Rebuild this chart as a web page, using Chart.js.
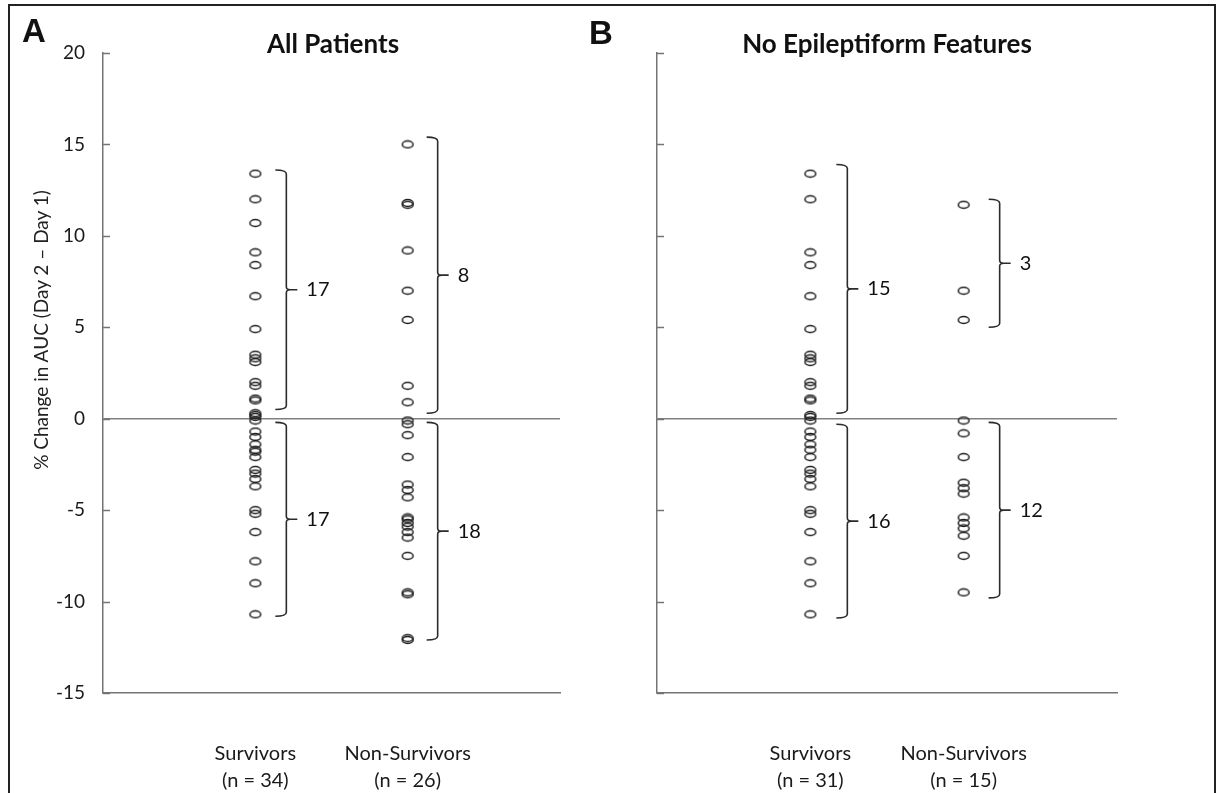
<!DOCTYPE html>
<html>
<head>
<meta charset="utf-8">
<script src="https://cdn.jsdelivr.net/npm/chart.js@4.4.1/dist/chart.umd.min.js"></script>
<style>
  html, body { margin: 0; padding: 0; background: #fff; }
  body { width: 1219px; height: 793px; position: relative; overflow: hidden; font-family: Lato, "Open Sans", sans-serif; }
  .frame { position: absolute; left: 8px; top: 4px; width: 1208px; height: 800px; border: 2px solid #222; box-sizing: border-box; }
  canvas { position: absolute; top: 0; }
  #chartA { left: 0; }
  #chartB { left: 600px; }
  .panel { position: absolute; font: bold 33px "Liberation Sans", Arial, sans-serif; color: #111; }
  .title { position: absolute; font: bold 26px Lato, sans-serif; color: #111; text-align: center; width: 460px; }
  .ytitle { position: absolute; left: 40px; top: 330px; transform: translate(-50%, -50%) rotate(-90deg);
            font: 19px "Liberation Sans Narrow", Lato, sans-serif; color: #222; white-space: nowrap; }
</style>
</head>
<body>
<div class="frame"></div>
<canvas id="chartA" width="600" height="793"></canvas>
<canvas id="chartB" width="619" height="793"></canvas>
<div class="panel" style="left:22px; top:12px;">A</div>
<div class="panel" style="left:589px; top:14px;">B</div>
<div class="title" style="left:103px; top:27px;">All Patients</div>
<div class="title" style="left:657px; top:27px;">No Epileptiform Features</div>
<div class="ytitle">% Change in AUC (Day 2 – Day 1)</div>
<script>
// ===== Data =====
const categories = ['Survivors', 'Non-Survivors'];
const countsA = ['(n = 34)', '(n = 26)'];
const countsB = ['(n = 31)', '(n = 15)'];
const yTicks = [-15, -10, -5, 0, 5, 10, 15, 20];

const allSurvivors = [13.4, 12.0, 10.7, 9.1, 8.4, 6.7, 4.9, 3.5, 3.3, 3.1, 2.0, 1.8, 1.1, 1.0, 0.3, 0.2, 0.1,
  -0.1, -0.7, -1.0, -1.4, -1.7, -1.8, -2.1, -2.8, -3.0, -3.3, -3.7, -5.0, -5.2, -6.2, -7.8, -9.0, -10.7];
const allNonSurvivors = [15.0, 11.8, 11.7, 9.2, 7.0, 5.4, 1.8, 0.9,
  -0.1, -0.3, -0.9, -2.1, -3.6, -3.9, -4.3, -5.4, -5.5, -5.7, -5.9, -6.2, -6.5, -7.5, -9.5, -9.6, -12.0, -12.1];
const noEpiSurvivors = [13.4, 12.0, 9.1, 8.4, 6.7, 4.9, 3.5, 3.3, 3.1, 2.0, 1.8, 1.1, 1.0, 0.2, 0.1,
  -0.1, -0.7, -1.0, -1.4, -1.7, -2.1, -2.8, -3.0, -3.3, -3.7, -5.0, -5.2, -6.2, -7.8, -9.0, -10.7];
const noEpiNonSurvivors = [11.7, 7.0, 5.4,
  -0.1, -0.8, -2.1, -3.5, -3.8, -4.1, -5.4, -5.7, -6.0, -6.4, -7.5, -9.5];

// bracket ranges [top, bottom] per category, with the count printed beside
const bracketCatA = [0, 0, 1, 1];
const bracketRangeA = [[13.6, 0.5], [-0.2, -10.8], [15.4, 0.3], [-0.2, -12.1]];
const bracketLabelA = ['17', '17', '8', '18'];
const bracketCatB = [0, 0, 1, 1];
const bracketRangeB = [[13.9, 0.3], [-0.3, -10.9], [12.0, 5.0], [-0.2, -9.8]];
const bracketLabelB = ['15', '16', '3', '12'];

// ===== Helpers =====
function ellipseMarker() {
  const c = document.createElement('canvas');
  c.width = 14; c.height = 10;
  const g = c.getContext('2d');
  g.strokeStyle = '#1e1e1e';
  g.lineWidth = 1.5;
  g.beginPath();
  g.ellipse(7, 5, 5.4, 3.5, 0, 0, Math.PI * 2);
  g.stroke();
  return c;
}
const marker = ellipseMarker();

const AXIS = '#747474';

// tick marks drawn inward, plus brackets with counts
const panelExtras = {
  id: 'panelExtras',
  afterDatasetsDraw(chart, args, opts) {
    const { ctx, chartArea } = chart;
    const x = chart.scales.x, y = chart.scales.y;
    ctx.save();
    ctx.strokeStyle = AXIS;
    ctx.lineWidth = 1.5;
    yTicks.forEach(v => {
      const py = Math.round(y.getPixelForValue(v)) + 0.5;
      ctx.beginPath();
      ctx.moveTo(chartArea.left, py);
      ctx.lineTo(chartArea.left + 7, py);
      ctx.stroke();
    });

    ctx.strokeStyle = '#2b2b2b';
    ctx.lineWidth = 1.6;
    ctx.fillStyle = '#111';
    ctx.font = '20px Lato, sans-serif';
    ctx.textBaseline = 'middle';
    ctx.textAlign = 'left';
    opts.ranges.forEach((r, i) => {
      const bx = x.getPixelForValue(opts.cats[i] + 1) + opts.offset[opts.cats[i]];
      const y1 = y.getPixelForValue(r[0]);
      const y2 = y.getPixelForValue(r[1]);
      const ym = (y1 + y2) / 2;
      ctx.beginPath();
      ctx.moveTo(bx - 11, y1);
      ctx.quadraticCurveTo(bx, y1, bx, y1 + 4);
      ctx.lineTo(bx, ym - 3);
      ctx.quadraticCurveTo(bx, ym, bx + 4, ym);
      ctx.lineTo(bx + 11, ym);
      ctx.moveTo(bx + 4, ym);
      ctx.quadraticCurveTo(bx, ym, bx, ym + 3);
      ctx.lineTo(bx, y2 - 4);
      ctx.quadraticCurveTo(bx, y2, bx - 11, y2);
      ctx.stroke();
      ctx.fillText(opts.labels[i], bx + 20, ym);
    });
    ctx.restore();
  }
};

function makePanel(id, survivors, nonSurvivors, counts, showYLabels, leftWidth, rightPad, brackets) {
  const survPts = survivors.map(v => ({ x: 1, y: v }));
  const nonPts = nonSurvivors.map(v => ({ x: 2, y: v }));
  const pointStyle = {
    pointStyle: marker, pointRadius: 6, pointHoverRadius: 6,
    showLine: false
  };
  return new Chart(document.getElementById(id), {
    type: 'scatter',
    data: {
      datasets: [
        Object.assign({ label: categories[0], data: survPts }, pointStyle),
        Object.assign({ label: categories[1], data: nonPts }, pointStyle)
      ]
    },
    options: {
      responsive: false,
      animation: false,
      layout: { padding: { top: 53, right: rightPad, bottom: 0, left: 0 } },
      plugins: {
        legend: { display: false },
        tooltip: { enabled: false },
        panelExtras: brackets
      },
      scales: {
        x: {
          type: 'linear', min: 0, max: 3,
          afterBuildTicks: s => { s.ticks = [{ value: 1 }, { value: 2 }]; },
          afterFit: s => { s.height = 100; },
          grid: { display: false },
          border: { display: true, color: AXIS, width: 1.5 },
          ticks: {
            padding: 39,
            color: '#1a1a1a',
            font: { family: 'Lato, sans-serif', size: 20, lineHeight: 1.35 },
            maxRotation: 0, autoSkip: false,
            callback: v => [categories[v - 1], counts[v - 1]]
          }
        },
        y: {
          type: 'linear', min: -15, max: 20,
          afterBuildTicks: s => { s.ticks = yTicks.map(v => ({ value: v })); },
          afterFit: s => { s.width = leftWidth; },
          grid: {
            drawTicks: false,
            lineWidth: 1.5,
            color: c => (c.tick && c.tick.value === 0) ? '#808080' : 'rgba(0,0,0,0)'
          },
          border: { display: true, color: AXIS, width: 1.5 },
          ticks: {
            display: showYLabels,
            padding: 18,
            color: '#1a1a1a',
            font: { family: 'Lato, sans-serif', size: 19 }
          }
        }
      }
    },
    plugins: [panelExtras]
  });
}

makePanel('chartA', allSurvivors, allNonSurvivors, countsA, true, 103, 40,
  { cats: bracketCatA, ranges: bracketRangeA, labels: bracketLabelA, offset: [31, 30] });
makePanel('chartB', noEpiSurvivors, noEpiNonSurvivors, countsB, false, 57, 102,
  { cats: bracketCatB, ranges: bracketRangeB, labels: bracketLabelB, offset: [37, 36] });
</script>
</body>
</html>
